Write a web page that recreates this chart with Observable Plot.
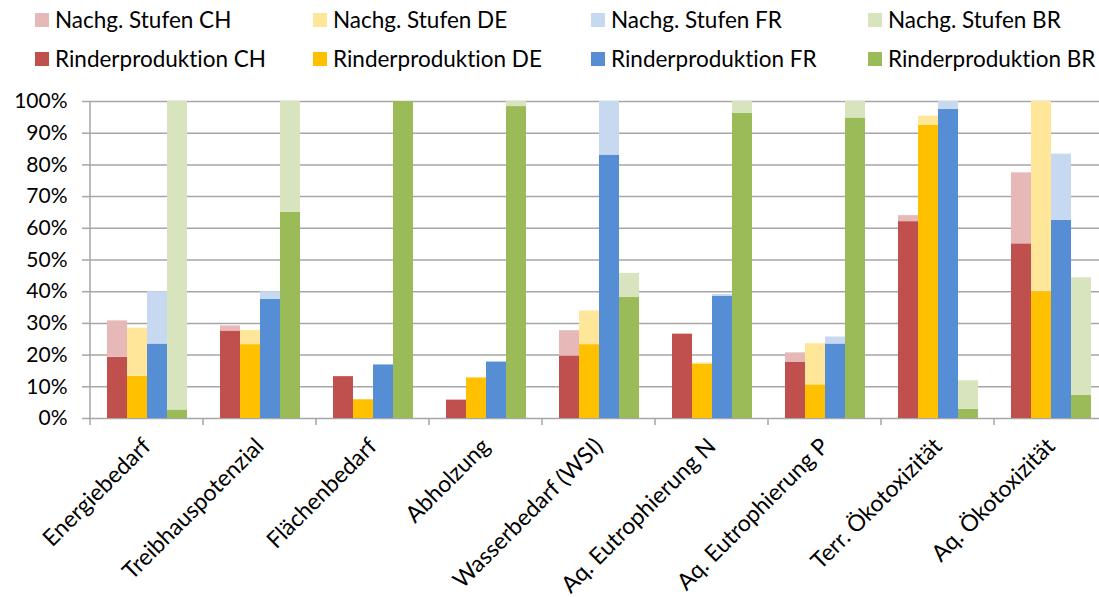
<!DOCTYPE html>
<html>
<head>
<meta charset="utf-8">
<script src="https://cdn.jsdelivr.net/npm/d3@7"></script>
<script src="https://cdn.jsdelivr.net/npm/@observablehq/plot@0.6"></script>
<style>
  html, body { margin: 0; padding: 0; background: #fff; overflow: hidden; }
  body { font-family: Lato, "Open Sans", sans-serif; font-variant-ligatures: none; }
  #legend { position: relative; width: 1099px; height: 80px; }
  .lg-item { position: absolute; display: flex; align-items: center; font-size: 22.5px; color: #000; white-space: nowrap; line-height: 1; }
  .lg-sw { width: 14px; height: 14px; margin-right: 6px; }
  #chart svg { display: block; overflow: hidden; font-variant-ligatures: none; }
</style>
</head>
<body>
<div id="legend"></div>
<div id="chart"></div>
<script>
// ---- data ----
const categories = ["Energiebedarf", "Treibhauspotenzial", "Flächenbedarf", "Abholzung", "Wasserbedarf (WSI)", "Aq. Eutrophierung N", "Aq. Eutrophierung P", "Terr. Ökotoxizität", "Aq. Ökotoxizität"];
const countries = ["CH", "DE", "FR", "BR"];

// Rinderproduktion (percent of maximum)
const rinderCH = [19.3, 27.6, 13.2, 5.8, 19.7, 26.6, 17.8, 62.1, 55.1];
const rinderDE = [13.3, 23.3, 5.9, 12.8, 23.3, 17.2, 10.6, 92.5, 40.0];
const rinderFR = [23.5, 37.6, 16.9, 17.8, 83.1, 38.5, 23.5, 97.5, 62.5];
const rinderBR = [2.7, 65.1, 100, 98.4, 38.2, 96.3, 94.8, 2.9, 7.3];

// Nachgelagerte Stufen (added on top)
const nachgCH = [11.5, 1.6, 0, 0, 8.0, 0.2, 2.9, 1.9, 22.4];
const nachgDE = [15.2, 4.5, 0, 0, 10.6, 0.3, 13.0, 2.9, 60.0];
const nachgFR = [16.5, 2.4, 0, 0, 16.9, 0.6, 2.2, 2.5, 20.9];
const nachgBR = [97.3, 34.9, 0, 1.6, 7.6, 3.7, 5.2, 9.0, 37.1];

const yTicks = [0, 10, 20, 30, 40, 50, 60, 70, 80, 90, 100];

const rinderLabels = ["Rinderproduktion CH", "Rinderproduktion DE", "Rinderproduktion FR", "Rinderproduktion BR"];
const nachgLabels = ["Nachg. Stufen CH", "Nachg. Stufen DE", "Nachg. Stufen FR", "Nachg. Stufen BR"];
const rinderColors = ["#C0504D", "#FFC000", "#558ED5", "#9BBB59"];
const nachgColors = ["#E6B9B8", "#FFE699", "#C6D9F1", "#D7E4BD"];

// ---- table for Plot ----
const rinderBy = {CH: rinderCH, DE: rinderDE, FR: rinderFR, BR: rinderBR};
const nachgBy = {CH: nachgCH, DE: nachgDE, FR: nachgFR, BR: nachgBR};
const data = [];
categories.forEach((cat, i) => {
  countries.forEach((c, j) => {
    data.push({cat, country: c, key: rinderLabels[j], value: rinderBy[c][i]});
    data.push({cat, country: c, key: nachgLabels[j], value: nachgBy[c][i]});
  });
});

// ---- legend ----
const legend = document.getElementById("legend");
const colX = [35, 313, 591, 868];
const rowY = [12, 51];
[[nachgLabels, nachgColors], [rinderLabels, rinderColors]].forEach(([labels, colors], r) => {
  labels.forEach((lab, j) => {
    const it = document.createElement("div");
    it.className = "lg-item";
    it.style.left = colX[j] + "px";
    it.style.top = (rowY[r] - 3) + "px";
    it.innerHTML = `<span class="lg-sw" style="background:${colors[j]}"></span><span>${lab}</span>`;
    legend.appendChild(it);
  });
});

// ---- chart ----
const gridColor = "#A6A6A6";
const plot = Plot.plot({
  width: 1099,
  height: 517,
  marginTop: 21,
  marginBottom: 179,
  marginLeft: 88,
  marginRight: -9,
  style: {fontFamily: "Lato, 'Open Sans', sans-serif", fontSize: "21px", background: "transparent", color: "#000"},
  fx: {domain: categories, paddingInner: 0, paddingOuter: 0, label: null},
  x: {domain: countries, paddingInner: 0, paddingOuter: 0.74, axis: null},
  y: {domain: [0, 100], label: null},
  color: {domain: [...rinderLabels, ...nachgLabels], range: [...rinderColors, ...nachgColors]},
  marks: [
    Plot.gridY(yTicks, {stroke: gridColor, strokeOpacity: 1, strokeWidth: 1.5}),
    Plot.axisY(yTicks, {tickFormat: d => d + "%", tickSize: 8, tickPadding: 15, stroke: gridColor, strokeWidth: 1.5, fill: "#000", fontSize: 21, label: null}),
    Plot.axisFx({anchor: "bottom", tickRotate: -45, tickSize: 0, tickPadding: 24, fill: "#000", fontSize: 23, label: null}),
    Plot.barY(data, {fx: "cat", x: "country", y: "value", fill: "key"})
  ]
});
document.getElementById("chart").appendChild(plot);

// category boundary ticks and left axis line, positioned by Plot's own scales
const fx = plot.scale("fx");
const y = plot.scale("y");
const svg = d3.select(plot);
const y0 = y.apply(0), y100 = y.apply(100);
const bounds = categories.map(c => fx.apply(c));
bounds.push(fx.apply(categories[categories.length - 1]) + fx.bandwidth);
const g = svg.append("g").attr("stroke", gridColor).attr("stroke-width", 1.5);
bounds.forEach((bx, i) => {
  g.append("line").attr("x1", bx).attr("x2", bx).attr("y1", i === 0 ? y100 : y0).attr("y2", y0 + 7);
});
</script>
</body>
</html>
